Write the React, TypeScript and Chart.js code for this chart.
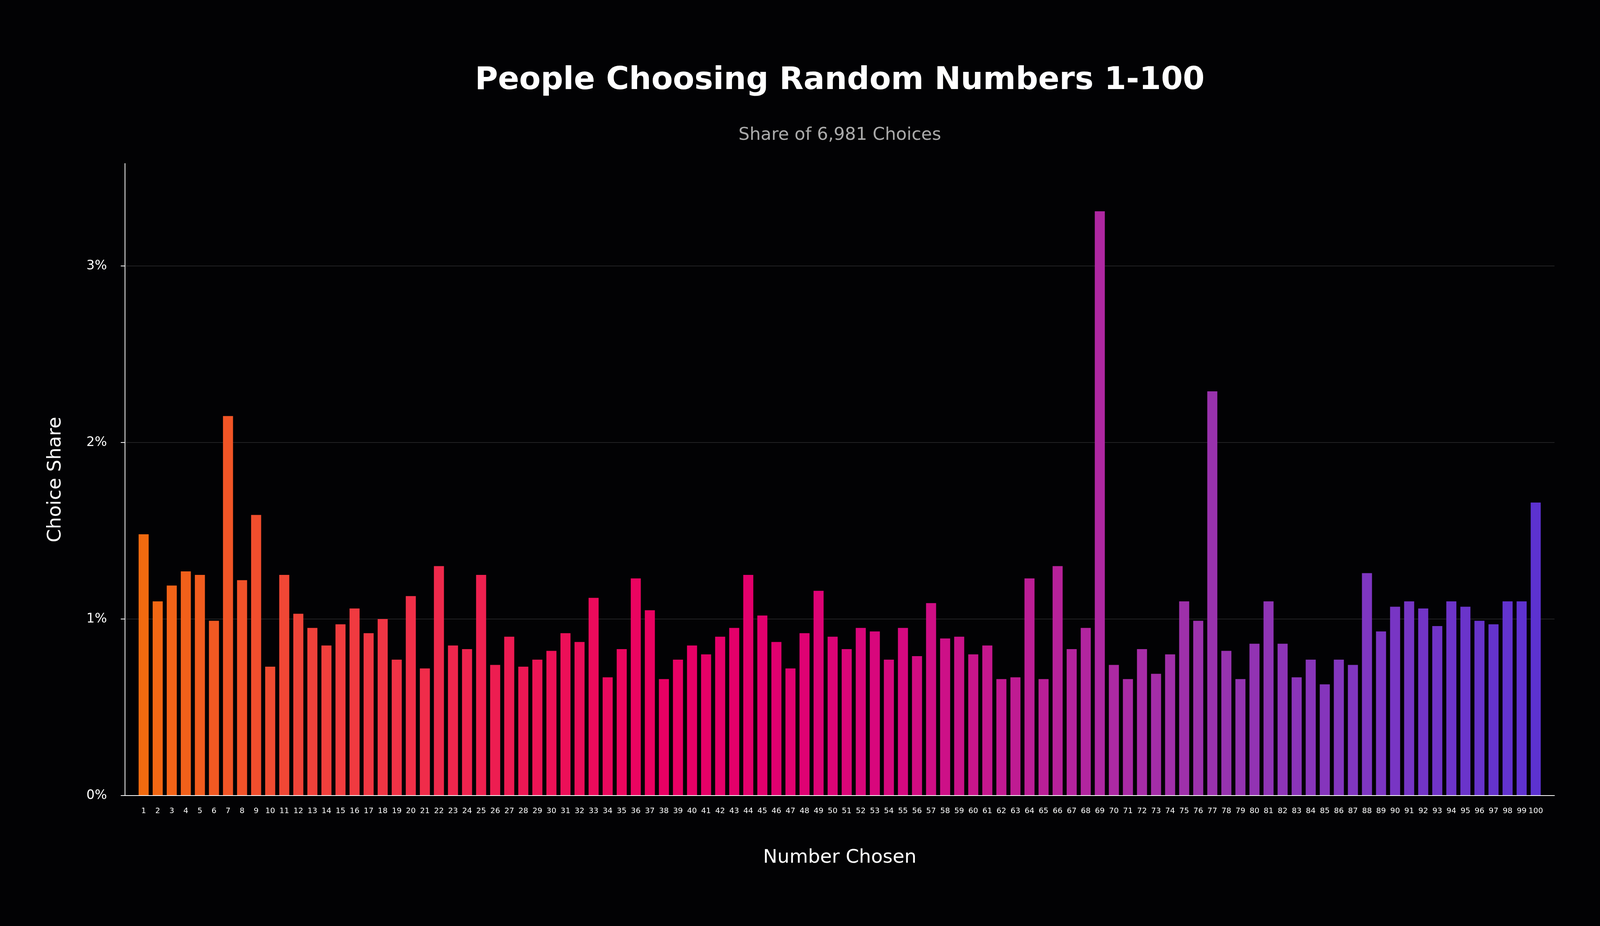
import { useEffect, useRef } from "react"
import { Chart, registerables } from "chart.js"

Chart.register(...registerables)

// numbers 1..100 that people picked
const numbers: number[] = [
  1, 2, 3, 4, 5, 6, 7, 8, 9, 10, 11, 12, 13, 14, 15, 16, 17, 18, 19, 20,
  21, 22, 23, 24, 25, 26, 27, 28, 29, 30, 31, 32, 33, 34, 35, 36, 37, 38, 39, 40,
  41, 42, 43, 44, 45, 46, 47, 48, 49, 50, 51, 52, 53, 54, 55, 56, 57, 58, 59, 60,
  61, 62, 63, 64, 65, 66, 67, 68, 69, 70, 71, 72, 73, 74, 75, 76, 77, 78, 79, 80,
  81, 82, 83, 84, 85, 86, 87, 88, 89, 90, 91, 92, 93, 94, 95, 96, 97, 98, 99, 100,
]

// share of the 6,981 choices, in percent
const shares: number[] = [
  1.48, 1.10, 1.19, 1.27, 1.25, 0.99, 2.15, 1.22, 1.59, 0.73,
  1.25, 1.03, 0.95, 0.85, 0.97, 1.06, 0.92, 1.00, 0.77, 1.13,
  0.72, 1.30, 0.85, 0.83, 1.25, 0.74, 0.90, 0.73, 0.77, 0.82,
  0.92, 0.87, 1.12, 0.67, 0.83, 1.23, 1.05, 0.66, 0.77, 0.85,
  0.80, 0.90, 0.95, 1.25, 1.02, 0.87, 0.72, 0.92, 1.16, 0.90,
  0.83, 0.95, 0.93, 0.77, 0.95, 0.79, 1.09, 0.89, 0.90, 0.80,
  0.85, 0.66, 0.67, 1.23, 0.66, 1.30, 0.83, 0.95, 3.31, 0.74,
  0.66, 0.83, 0.69, 0.80, 1.10, 0.99, 2.29, 0.82, 0.66, 0.86,
  1.10, 0.86, 0.67, 0.77, 0.63, 0.77, 0.74, 1.26, 0.93, 1.07,
  1.10, 1.06, 0.96, 1.10, 1.07, 0.99, 0.97, 1.10, 1.10, 1.66,
]

const yTicks: number[] = [0, 1, 2, 3]

const TITLE = "People Choosing Random Numbers 1-100"
const SUBTITLE = "Share of 6,981 Choices"
const X_TITLE = "Number Chosen"
const Y_TITLE = "Choice Share"

// design size; everything is scaled to the real window
const BASE_W = 5207
const BASE_H = 2371
const FONT = "'DejaVu Sans', sans-serif"
const BG = "#020204"

// colour ramp orange -> pink -> violet, position 0..1
const rampStops: [number, [number, number, number]][] = [
  [0.0, [242, 106, 15]],
  [0.11, [240, 68, 56]],
  [0.19, [240, 48, 72]],
  [0.29, [236, 18, 86]],
  [0.37, [233, 0, 98]],
  [0.45, [226, 0, 110]],
  [0.54, [214, 8, 127]],
  [0.61, [196, 24, 142]],
  [0.68, [176, 38, 160]],
  [0.76, [155, 50, 172]],
  [0.87, [128, 54, 192]],
  [1.0, [92, 50, 208]],
]

function rampColor(t: number) {
  for (let i = 1; i < rampStops.length; i++) {
    const [p1, c1] = rampStops[i]
    const [p0, c0] = rampStops[i - 1]
    if (t <= p1) {
      const f = (t - p0) / (p1 - p0)
      const c = c0.map((v, k) => Math.round(v + (c1[k] - v) * f))
      return `rgb(${c[0]}, ${c[1]}, ${c[2]})`
    }
  }
  const last = rampStops[rampStops.length - 1][1]
  return `rgb(${last[0]}, ${last[1]}, ${last[2]})`
}

export default function App() {
  const canvasRef = useRef<HTMLCanvasElement>(null)
  const chartRef = useRef<Chart | null>(null)

  const W = window.innerWidth || BASE_W
  const H = window.innerHeight || BASE_H

  useEffect(() => {
    document.body.style.margin = "0"
    document.body.style.background = BG
    document.body.style.overflow = "hidden"
    if (!canvasRef.current) return
    if (chartRef.current) chartRef.current.destroy()

    const sx = W / BASE_W
    const sy = H / BASE_H
    const fs = Math.min(sx, sy)

    // font sizes
    const fTitle = 102 * fs
    const fSub = 57 * fs
    const fAxis = 62 * fs
    const fXTick = 25 * fs
    const fYTick = 42 * fs
    const lw = 2.5 * fs

    // vertical placement (canvas 'middle' sits ~0.26em above the baseline)
    const titleMid = 228 * sy - 0.26 * fTitle
    const titlePadTop = titleMid - 0.6 * fTitle
    const titleBottom = titlePadTop + 1.2 * fTitle
    const subMid = 358 * sy - 0.26 * fSub
    const subPadTop = subMid - 0.6 * fSub - titleBottom
    const subPadBottom = 419 * sy - (subMid + 0.6 * fSub)
    const plotBottom = 2037 * sy
    const xTickPad = 2082 * sy - 0.26 * fXTick - 0.6 * fXTick - plotBottom
    const xTitlePadBottom = H - (2209 * sy - 0.26 * fAxis) - 0.6 * fAxis

    // horizontal placement
    const plotLeft = 407 * sx
    const plotRight = 5059 * sx
    const tickLen = 14 * sx
    const yTickPad = (407 - 348) * sx - tickLen
    const yTitlePadTop = 197 * sx - 0.26 * fAxis - 0.6 * fAxis

    const colors = numbers.map((_, i) => rampColor(i / (numbers.length - 1)))

    chartRef.current = new Chart(canvasRef.current, {
      type: "bar",
      data: {
        datasets: [
          {
            data: numbers.map((n, i) => ({ x: n, y: shares[i] })),
            backgroundColor: colors,
            borderWidth: 0,
            barPercentage: 0.715,
            categoryPercentage: 1,
          },
        ],
      },
      options: {
        animation: false,
        responsive: true,
        maintainAspectRatio: false,
        layout: { padding: { top: 0, right: W - plotRight, bottom: 0, left: 0 } },
        plugins: {
          legend: { display: false },
          tooltip: { enabled: false },
          title: {
            display: true,
            text: TITLE,
            color: "#ffffff",
            fullSize: false,
            font: { family: FONT, size: fTitle, weight: "bold", lineHeight: 1.2 },
            padding: { top: titlePadTop, bottom: 0 },
          },
          subtitle: {
            display: true,
            text: SUBTITLE,
            color: "#aaaaaa",
            fullSize: false,
            font: { family: FONT, size: fSub, lineHeight: 1.2 },
            padding: { top: subPadTop, bottom: subPadBottom },
          },
        },
        scales: {
          x: {
            type: "linear",
            min: 0.187,
            max: 100.83,
            afterBuildTicks: (axis) => {
              axis.ticks = numbers.map((n) => ({ value: n }))
            },
            afterFit: (scale) => {
              scale.height = H - plotBottom
            },
            grid: { display: false, drawTicks: false },
            border: { display: true, color: "#ffffff", width: lw },
            ticks: {
              color: "#ffffff",
              autoSkip: false,
              maxRotation: 0,
              padding: xTickPad,
              font: { family: FONT, size: fXTick },
              callback: (v) => String(v),
            },
            title: {
              display: true,
              text: X_TITLE,
              color: "#ffffff",
              font: { family: FONT, size: fAxis, lineHeight: 1.2 },
              padding: { top: 0, bottom: xTitlePadBottom },
            },
          },
          y: {
            min: 0,
            max: 3.58,
            afterBuildTicks: (axis) => {
              axis.ticks = yTicks.map((v) => ({ value: v }))
            },
            afterFit: (scale) => {
              scale.width = plotLeft
            },
            grid: {
              color: "#222224",
              lineWidth: lw,
              drawTicks: true,
              tickLength: tickLen,
              tickColor: "#ffffff",
              tickWidth: lw,
            },
            border: { display: true, color: "#ffffff", width: lw },
            ticks: {
              color: "#ffffff",
              padding: yTickPad,
              font: { family: FONT, size: fYTick },
              callback: (v) => `${v}%`,
            },
            title: {
              display: true,
              text: Y_TITLE,
              color: "#ffffff",
              font: { family: FONT, size: fAxis, lineHeight: 1.2 },
              padding: { top: yTitlePadTop, bottom: 0 },
            },
          },
        },
      },
      plugins: [
        {
          id: "bg",
          beforeDraw: (chart) => {
            const ctx = chart.ctx
            ctx.save()
            ctx.fillStyle = BG
            ctx.fillRect(0, 0, chart.width, chart.height)
            ctx.restore()
          },
        },
      ],
    })

    return () => {
      if (chartRef.current) {
        chartRef.current.destroy()
        chartRef.current = null
      }
    }
  }, [W, H])

  return (
    <div style={{ width: W, height: H, background: BG, position: "relative" }}>
      <canvas ref={canvasRef}></canvas>
    </div>
  )
}
